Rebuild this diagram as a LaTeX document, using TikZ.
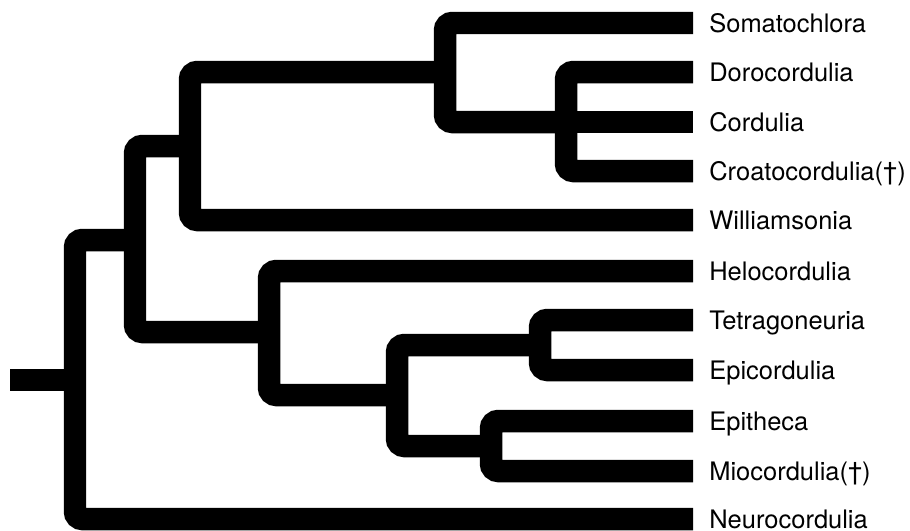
\documentclass[tikz,border=0pt]{standalone}
\usepackage{fontspec}
\setmainfont{TeX Gyre Heros}
\usepackage{tikz}
\usetikzlibrary{positioning}
\tikzset{
  branch/.style={line width=0.45cm, draw=black, rounded corners=0.15cm},
  taxon/.style={anchor=west, font=\fontsize{14.5}{16}\selectfont, inner xsep=0.32cm,
                inner ysep=0pt, text height=10.4pt, text depth=0pt},
}

\begin{document}
\begin{tikzpicture}[x=0.02cm, y=-0.02cm]
\useasboundingbox (0,0) rectangle (910,531);

% Taxa
\node[taxon] (som) at (693,23)  {Somatochlora};
\node[taxon] (dor) at (693,72)  {Dorocordulia};
\node[taxon] (cdl) at (693,122) {Cordulia};
\node[taxon] (cro) at (693,171) {Croatocordulia(†)};
\node[taxon] (wil) at (693,220) {Williamsonia};
\node[taxon] (hel) at (693,271) {Helocordulia};
\node[taxon] (tet) at (693,320) {Tetragoneuria};
\node[taxon] (epc) at (693,370) {Epicordulia};
\node[taxon] (ept) at (693,421) {Epitheca};
\node[taxon] (mio) at (693,471) {Miocordulia(†)};
\node[taxon] (neu) at (693,519) {Neurocordulia};

% Knots
\coordinate (cor)  at (566,122);
\coordinate (smt)  at (445,72);
\coordinate (wn)   at (190,146);
\coordinate (te)   at (540,345);
\coordinate (em)   at (491,446);
\coordinate (q)    at (397,395);
\coordinate (hk)   at (269,332);
\coordinate (an)   at (135,240);
\coordinate (root) at (75,380);
\coordinate (base) at (10,380);

% Upper clade
\draw[branch] (dor.west) -| (cor) |- (cro.west);
\draw[branch] (cor) -- (cdl.west);
\draw[branch] (som.west) -| (smt) |- (cor);
\draw[branch] (smt) -| (wn) |- (wil.west);

% Lower clade
\draw[branch] (tet.west) -| (te) |- (epc.west);
\draw[branch] (ept.west) -| (em) |- (mio.west);
\draw[branch] (te) -| (q) |- (em);
\draw[branch] (hel.west) -| (hk) |- (q);

% Root
\draw[branch] (wn) -| (an) |- (hk);
\draw[branch] (an) -| (root) |- (neu.west);
\draw[branch] (base) -- (root);

\end{tikzpicture}
\end{document}
